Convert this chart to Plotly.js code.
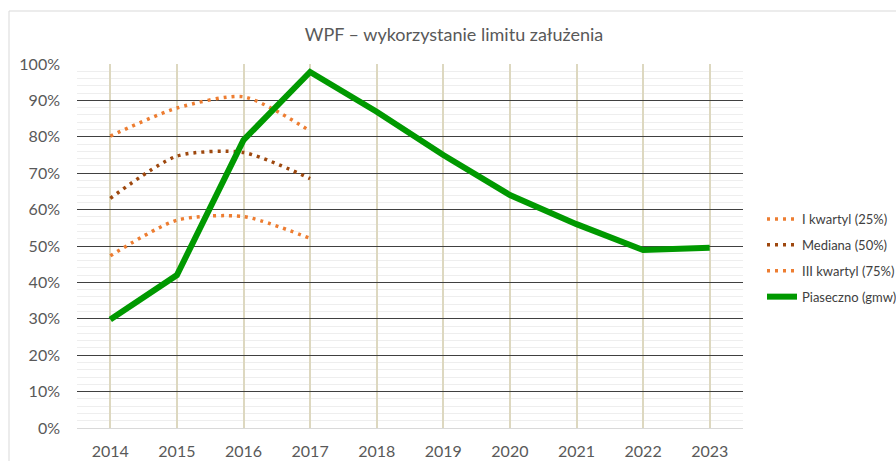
<!DOCTYPE html>
<html>
<head>
<meta charset="utf-8">
<script src="https://cdn.plot.ly/plotly-3.0.1.min.js"></script>
<style>html,body{margin:0;padding:0;background:#fff;overflow:hidden}#chart{width:896px;height:461px}</style>
</head>
<body>
<div id="chart"></div>
<script>
const years = ['2014','2015','2016','2017','2018','2019','2020','2021','2022','2023'];
const q1Years = ['2014','2015','2016','2017'];
const q1Values = [0.802, 0.879, 0.910, 0.816];
const medianValues = [0.631, 0.747, 0.757, 0.685];
const q3Values = [0.473, 0.571, 0.581, 0.521];
const piasecznoValues = [0.298, 0.420, 0.791, 0.978, 0.869, 0.750, 0.640, 0.560, 0.489, 0.495];
const seriesNames = ['I kwartyl (25%)', 'Mediana (50%)', 'III kwartyl (75%)', 'Piaseczno (gmw)'];

const orange = '#ED7D31';
const brown = '#9E480E';
const green = '#009900';

const L = 77, R = 153, T = 64, B = 33;
const W = 896, H = 461;
const pw = W - L - R, ph = H - T - B;

const traces = [
  {x: q1Years, y: q1Values, name: seriesNames[0], legendgroup: 'a', mode: 'lines',
   line: {color: orange, width: 3.5, dash: '3px,5px', shape: 'spline', smoothing: 0.7}},
  {x: q1Years, y: medianValues, name: seriesNames[1], legendgroup: 'b', mode: 'lines',
   line: {color: brown, width: 3.5, dash: '3px,5px', shape: 'spline', smoothing: 0.7}},
  {x: q1Years, y: q3Values, name: seriesNames[2], legendgroup: 'c', mode: 'lines',
   line: {color: orange, width: 3.5, dash: '3px,5px', shape: 'spline', smoothing: 0.7}},
  {x: years, y: piasecznoValues, name: seriesNames[3], legendgroup: 'd', mode: 'lines',
   line: {color: green, width: 6}}
];

const layout = {
  width: W, height: H,
  margin: {l: L, r: R, t: T, b: B, pad: 0, autoexpand: false},
  paper_bgcolor: '#ffffff', plot_bgcolor: '#ffffff',
  font: {family: 'Lato, "Open Sans", sans-serif', color: '#595959'},
  title: {text: 'WPF – wykorzystanie limitu załużenia', font: {size: 18, color: '#595959'},
          x: 454 / W, xref: 'container', xanchor: 'center', y: 1 - 35 / H, yref: 'container', yanchor: 'middle'},
  showlegend: true,
  legend: {x: (762 - L) / pw, xanchor: 'left', y: 1 - (204 - T) / ph, yanchor: 'top',
           font: {size: 13, color: '#404040'}, bgcolor: 'rgba(0,0,0,0)',
           traceorder: 'grouped', tracegroupgap: 6, itemwidth: 30},
  xaxis: {type: 'category', categoryorder: 'array', categoryarray: years, range: [-0.5, 9.5],
          showgrid: true, gridcolor: '#ddd8c0', gridwidth: 2,
          showline: true, linecolor: '#d9d9d9', linewidth: 1, zeroline: false,
          ticks: '', ticklabelstandoff: 9, tickfont: {size: 16, color: '#595959'}, fixedrange: true},
  yaxis: {range: [0, 1], dtick: 0.1, tick0: 0, tickformat: '.0%',
          showgrid: true, gridcolor: '#404040', gridwidth: 1, zeroline: false, showline: false,
          minor: {dtick: 0.02, showgrid: true, gridcolor: '#eeeeee', gridwidth: 1},
          ticks: '', ticklabelstandoff: 16, tickfont: {size: 16, color: '#595959'}, fixedrange: true},
  shapes: [{type: 'rect', xref: 'paper', yref: 'paper',
            x0: (9 - L) / pw, x1: (W + 20 - L) / pw, y0: -0.3, y1: (H - B - 11) / ph,
            line: {color: '#d9d9d9', width: 1}, fillcolor: 'rgba(0,0,0,0)', layer: 'below'}]
};

Plotly.newPlot('chart', traces, layout, {displayModeBar: false, staticPlot: true});
</script>
</body>
</html>
